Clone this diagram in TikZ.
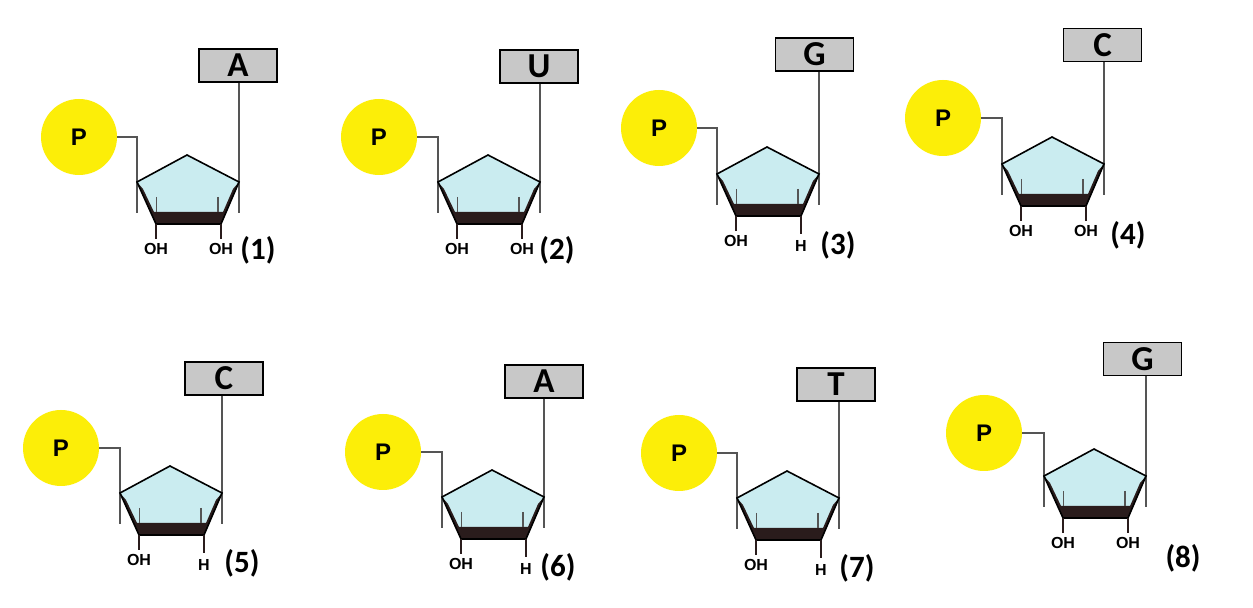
\documentclass[tikz,border=0pt]{standalone}
\usepackage{fontspec}
\setmainfont{Liberation Sans}
\newfontfamily\labelfont{Carlito}
\definecolor{phyellow}{RGB}{252,238,8}
\definecolor{ringblue}{RGB}{202,236,240}
\definecolor{boxgray}{RGB}{200,200,200}
\definecolor{bandbrown}{RGB}{42,28,28}
\definecolor{bondgray}{RGB}{85,85,85}
\def\Hsubst{H}
% #1 index, #2 left ring vertex, #3 base box centre, #4 phosphate centre,
% #5 index label centre, #6 base letter, #7 2' substituent (OH or H)
\newcommand{\nucleo}[7]{%
  \node[phos] (p#1) at #4 {P};
  \node[basebox] (b#1) at #3 {#6};
  \node[idx] (n#1) at #5 {(#1)};
  \begin{scope}[shift={#2}]
    \coordinate (l#1) at (0,0);
    \coordinate (t#1) at (50,-27);
    \coordinate (r#1) at (102,0);
    \coordinate (br#1) at (84,42);
    \coordinate (bl#1) at (19,42);
    \coordinate (ls#1) at (0,31);
    \coordinate (rs#1) at (102,31);
    \coordinate (oh#1) at (19,57);
    \def\tmpsub{#7}%
    \ifx\tmpsub\Hsubst
      \coordinate (x#1) at (84,60);
      \coordinate (xl#1) at (84,78);
    \else
      \coordinate (x#1) at (84,57);
      \coordinate (xl#1) at (84,73);
    \fi
    \coordinate (ohl#1) at (19,73);
    % phosphate-sugar and sugar-base bonds
    \draw[bond] (p#1.east) -| (ls#1);
    \draw[bond] (rs#1 |- b#1.south) -- (rs#1);
    % furanose ring, with its dark near edge seen in perspective
    \draw[ring] (l#1) -- (t#1) -- (r#1) -- (br#1) -- (bl#1) -- cycle;
    \fill[bandbrown] (l#1) -- (bl#1) -- (br#1) -- (r#1) -- (96,7) -- (86,30)
      -- (17,30) -- (6,7) -- cycle;
    \draw[ringedge] (l#1) -- (t#1) -- (r#1) -- (br#1) -- (bl#1) -- cycle;
    \draw[inner] (19.5,15) -- (19.5,30);
    \draw[inner] (81,15) -- (81,30);
    % 3' and 2' substituents
    \draw[stem] (bl#1) -- (oh#1);
    \draw[stem] (br#1) -- (x#1);
    \node[subst] (s#1) at (ohl#1) {OH};
    \node[subst] (u#1) at (xl#1) {#7};
  \end{scope}
}
\begin{document}
\begin{tikzpicture}[x=0.5pt,y=-0.5pt,
  phos/.style={circle,fill=phyellow,minimum size=38pt,inner sep=0pt,
    font=\bfseries\fontsize{12}{14}\selectfont},
  basebox/.style={draw=black,line width=0.7pt,fill=boxgray,minimum width=39pt,
    minimum height=16.5pt,inner sep=0pt,
    font=\labelfont\bfseries\fontsize{17.5}{19}\selectfont},
  bond/.style={draw=bondgray,line width=0.65pt},
  ring/.style={fill=ringblue,draw=none},
  ringedge/.style={draw=black,line width=0.8pt,line join=miter},
  inner/.style={draw=bondgray,line width=0.6pt},
  stem/.style={draw=bandbrown,line width=0.8pt},
  subst/.style={anchor=base,inner sep=0pt,font=\bfseries\fontsize{8}{9}\selectfont},
  idx/.style={inner sep=0pt,font=\labelfont\bfseries\fontsize{15.5}{17}\selectfont}]
\useasboundingbox[fill=white] (0,0) rectangle (1253,608);
\nucleo{1}{(137,182)}{(238,65.5)}{(79,137)}{(258,250)}{A}{OH}
\nucleo{2}{(438,182)}{(539,66.5)}{(379,137)}{(557,250)}{U}{OH}
\nucleo{3}{(717,174)}{(814.5,54.5)}{(659,128)}{(838,245)}{G}{H}
\nucleo{4}{(1002,164)}{(1102.5,45)}{(943,118)}{(1128,235)}{C}{OH}
\nucleo{5}{(120,493)}{(224,378.5)}{(61,448)}{(242,563)}{C}{H}
\nucleo{6}{(442,497)}{(544,381.5)}{(383,452)}{(558,567)}{A}{H}
\nucleo{7}{(737,498)}{(836,384.5)}{(679,453)}{(857,568)}{T}{H}
\nucleo{8}{(1044,476)}{(1142.5,359)}{(984,433)}{(1183,558)}{G}{OH}
\end{tikzpicture}
\end{document}
